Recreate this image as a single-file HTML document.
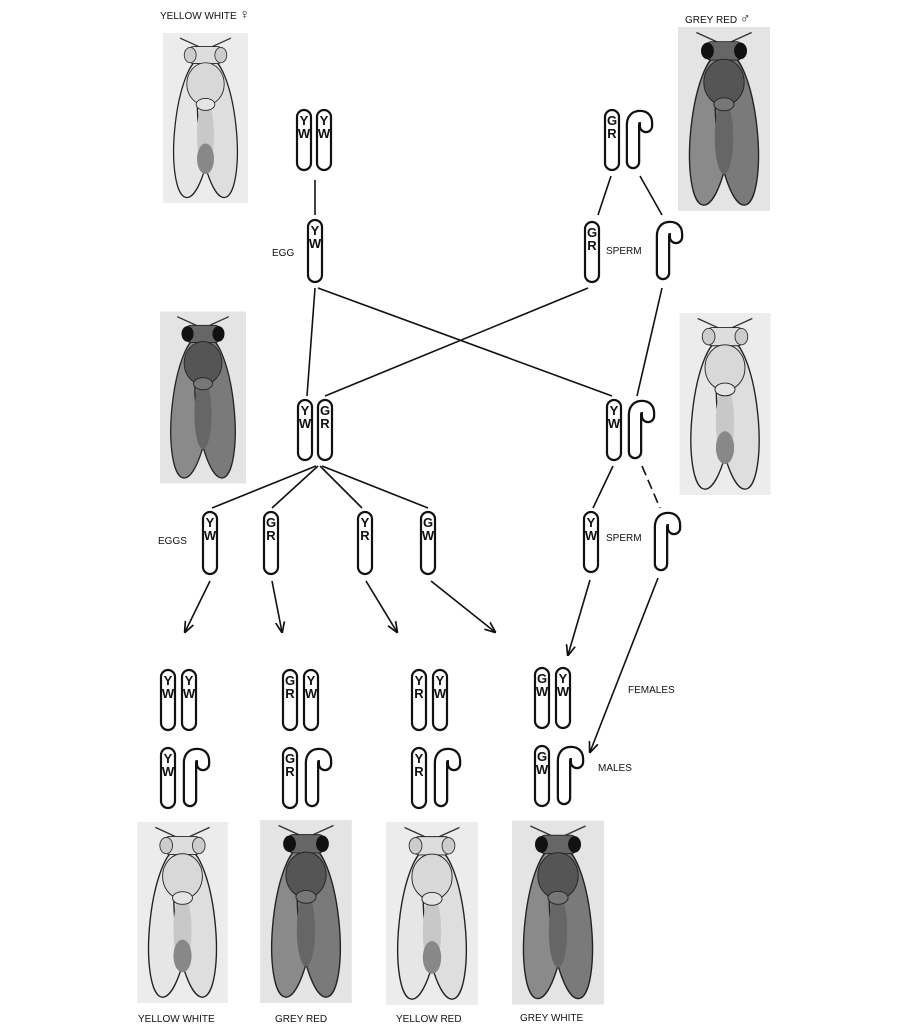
<!DOCTYPE html>
<html><head><meta charset="utf-8"><style>
html,body{margin:0;padding:0;background:#fff;}
svg{display:block}
text{font-family:"Liberation Sans",sans-serif;fill:#111}
.l{font-size:10px}
.c{fill:#fff;stroke:#111;stroke-width:2.2}
.g{font-size:13px;font-weight:bold;text-anchor:middle}
</style></head><body>
<svg width="900" height="1030" viewBox="0 0 900 1030" xmlns="http://www.w3.org/2000/svg">
<defs>
<symbol id="flyD" viewBox="0 0 100 200">
<rect x="0" y="0" width="100" height="200" fill="#e4e4e4"/>
<line x1="20" y1="6" x2="42" y2="16" stroke="#333" stroke-width="1.5"/>
<line x1="80" y1="6" x2="58" y2="16" stroke="#333" stroke-width="1.5"/>
<ellipse cx="36" cy="112" rx="22" ry="82" fill="#8a8a8a" stroke="#222" stroke-width="1.5" transform="rotate(6 36 112)"/>
<ellipse cx="64" cy="112" rx="22" ry="82" fill="#7a7a7a" stroke="#222" stroke-width="1.5" transform="rotate(-6 64 112)"/>
<ellipse cx="50" cy="120" rx="10" ry="40" fill="#666"/>
<rect x="30" y="16" width="40" height="20" rx="6" fill="#666" stroke="#222"/>
<ellipse cx="32" cy="26" rx="7" ry="9" fill="#111"/>
<ellipse cx="68" cy="26" rx="7" ry="9" fill="#111"/>
<ellipse cx="50" cy="60" rx="22" ry="25" fill="#555" stroke="#222"/>
<ellipse cx="50" cy="84" rx="11" ry="7" fill="#777" stroke="#222"/>
</symbol>
<symbol id="flyL" viewBox="0 0 100 200">
<rect x="0" y="0" width="100" height="200" fill="#ececec"/>
<line x1="20" y1="6" x2="42" y2="16" stroke="#333" stroke-width="1.5"/>
<line x1="80" y1="6" x2="58" y2="16" stroke="#333" stroke-width="1.5"/>
<ellipse cx="36" cy="112" rx="22" ry="82" fill="#e6e6e6" stroke="#222" stroke-width="1.5" transform="rotate(6 36 112)"/>
<ellipse cx="64" cy="112" rx="22" ry="82" fill="#dedede" stroke="#222" stroke-width="1.5" transform="rotate(-6 64 112)"/>
<ellipse cx="50" cy="120" rx="10" ry="40" fill="#c8c8c8"/>
<ellipse cx="50" cy="148" rx="10" ry="18" fill="#888"/>
<rect x="30" y="16" width="40" height="20" rx="6" fill="#ddd" stroke="#222"/>
<ellipse cx="32" cy="26" rx="7" ry="9" fill="#ccc" stroke="#333"/>
<ellipse cx="68" cy="26" rx="7" ry="9" fill="#ccc" stroke="#333"/>
<ellipse cx="50" cy="60" rx="22" ry="25" fill="#d8d8d8" stroke="#222"/>
<ellipse cx="50" cy="84" rx="11" ry="7" fill="#e4e4e4" stroke="#222"/>
</symbol>
<symbol id="hook" viewBox="0 0 30 62">
<path d="M9 53 L9 16 Q9 8 16 8 Q22 8 22 14 L22 17" fill="none" stroke="#111" stroke-width="14.5" stroke-linecap="round" stroke-linejoin="round"/>
<path d="M9 53 L9 16 Q9 8 16 8 Q22 8 22 14 L22 17" fill="none" stroke="#fff" stroke-width="10" stroke-linecap="round" stroke-linejoin="round"/>
</symbol>
<marker id="ar" viewBox="0 0 10 10" refX="9" refY="5" markerWidth="7" markerHeight="7" orient="auto"><path d="M0 1 L10 5 L0 9" fill="none" stroke="#111" stroke-width="1.5"/></marker>
</defs>

<use href="#flyL" x="163" y="22" width="85" height="192"/>
<use href="#flyD" x="678" y="26" width="92" height="186"/>
<use href="#flyD" x="160" y="305" width="86" height="185"/>
<use href="#flyL" x="678" y="313" width="94" height="182"/>
<use href="#flyL" x="132" y="822" width="101" height="181"/>
<use href="#flyD" x="259" y="820" width="94" height="183"/>
<use href="#flyL" x="383" y="822" width="98" height="183"/>
<use href="#flyD" x="512" y="820" width="92" height="185"/>

<text class="l" x="160" y="19">YELLOW WHITE <tspan font-size="14">♀</tspan></text>
<text class="l" x="685" y="23">GREY  RED <tspan font-size="14">♂</tspan></text>
<text class="l" x="272" y="256" font-size="9">EGG</text>
<text class="l" x="606" y="254">SPERM</text>
<text class="l" x="158" y="544">EGGS</text>
<text class="l" x="606" y="541">SPERM</text>
<text class="l" x="628" y="693">FEMALES</text>
<text class="l" x="598" y="771">MALES</text>
<text class="l" x="138" y="1022">YELLOW WHITE</text>
<text class="l" x="275" y="1022">GREY  RED</text>
<text class="l" x="396" y="1022">YELLOW  RED</text>
<text class="l" x="520" y="1021">GREY WHITE</text>

<g stroke="#111" stroke-width="1.6" fill="none">
<line x1="315" y1="180" x2="315" y2="215"/>
<line x1="611" y1="176" x2="598" y2="215"/>
<line x1="640" y1="176" x2="662" y2="215"/>
<line x1="315" y1="288" x2="307" y2="396"/>
<line x1="318" y1="288" x2="612" y2="396"/>
<line x1="588" y1="288" x2="325" y2="396"/>
<line x1="662" y1="288" x2="637" y2="396"/>
<line x1="316" y1="466" x2="212" y2="508"/>
<line x1="318" y1="466" x2="272" y2="508"/>
<line x1="320" y1="466" x2="362" y2="508"/>
<line x1="322" y1="466" x2="428" y2="508"/>
<line x1="613" y1="466" x2="593" y2="508"/>
<line x1="642" y1="466" x2="660" y2="508" stroke-dasharray="10 5"/>
<line x1="210" y1="581" x2="185" y2="632" marker-end="url(#ar)"/>
<line x1="272" y1="581" x2="282" y2="632" marker-end="url(#ar)"/>
<line x1="366" y1="581" x2="397" y2="632" marker-end="url(#ar)"/>
<line x1="431" y1="581" x2="495" y2="632" marker-end="url(#ar)"/>
<line x1="590" y1="580" x2="568" y2="655" marker-end="url(#ar)"/>
<line x1="658" y1="578" x2="590" y2="752" marker-end="url(#ar)"/>
</g>

<g>
<rect class="c" x="297" y="110" width="14" height="60" rx="7"/><text class="g" x="304" y="125">Y</text><text class="g" x="304" y="138">W</text>
<rect class="c" x="317" y="110" width="14" height="60" rx="7"/><text class="g" x="324" y="125">Y</text><text class="g" x="324" y="138">W</text>
<rect class="c" x="605" y="110" width="14" height="60" rx="7"/><text class="g" x="612" y="125">G</text><text class="g" x="612" y="138">R</text>
<use href="#hook" x="624" y="109" width="30" height="62"/>
<rect class="c" x="308" y="220" width="14" height="62" rx="7"/><text class="g" x="315" y="235">Y</text><text class="g" x="315" y="248">W</text>
<rect class="c" x="585" y="222" width="14" height="60" rx="7"/><text class="g" x="592" y="237">G</text><text class="g" x="592" y="250">R</text>
<use href="#hook" x="654" y="220" width="30" height="62"/>
<rect class="c" x="298" y="400" width="14" height="60" rx="7"/><text class="g" x="305" y="415">Y</text><text class="g" x="305" y="428">W</text>
<rect class="c" x="318" y="400" width="14" height="60" rx="7"/><text class="g" x="325" y="415">G</text><text class="g" x="325" y="428">R</text>
<rect class="c" x="607" y="400" width="14" height="60" rx="7"/><text class="g" x="614" y="415">Y</text><text class="g" x="614" y="428">W</text>
<use href="#hook" x="626" y="399" width="30" height="62"/>
<rect class="c" x="203" y="512" width="14" height="62" rx="7"/><text class="g" x="210" y="527">Y</text><text class="g" x="210" y="540">W</text>
<rect class="c" x="264" y="512" width="14" height="62" rx="7"/><text class="g" x="271" y="527">G</text><text class="g" x="271" y="540">R</text>
<rect class="c" x="358" y="512" width="14" height="62" rx="7"/><text class="g" x="365" y="527">Y</text><text class="g" x="365" y="540">R</text>
<rect class="c" x="421" y="512" width="14" height="62" rx="7"/><text class="g" x="428" y="527">G</text><text class="g" x="428" y="540">W</text>
<rect class="c" x="584" y="512" width="14" height="60" rx="7"/><text class="g" x="591" y="527">Y</text><text class="g" x="591" y="540">W</text>
<use href="#hook" x="652" y="511" width="30" height="62"/>
<rect class="c" x="161" y="670" width="14" height="60" rx="7"/><text class="g" x="168" y="685">Y</text><text class="g" x="168" y="698">W</text>
<rect class="c" x="182" y="670" width="14" height="60" rx="7"/><text class="g" x="189" y="685">Y</text><text class="g" x="189" y="698">W</text>
<rect class="c" x="283" y="670" width="14" height="60" rx="7"/><text class="g" x="290" y="685">G</text><text class="g" x="290" y="698">R</text>
<rect class="c" x="304" y="670" width="14" height="60" rx="7"/><text class="g" x="311" y="685">Y</text><text class="g" x="311" y="698">W</text>
<rect class="c" x="412" y="670" width="14" height="60" rx="7"/><text class="g" x="419" y="685">Y</text><text class="g" x="419" y="698">R</text>
<rect class="c" x="433" y="670" width="14" height="60" rx="7"/><text class="g" x="440" y="685">Y</text><text class="g" x="440" y="698">W</text>
<rect class="c" x="535" y="668" width="14" height="60" rx="7"/><text class="g" x="542" y="683">G</text><text class="g" x="542" y="696">W</text>
<rect class="c" x="556" y="668" width="14" height="60" rx="7"/><text class="g" x="563" y="683">Y</text><text class="g" x="563" y="696">W</text>
<rect class="c" x="161" y="748" width="14" height="60" rx="7"/><text class="g" x="168" y="763">Y</text><text class="g" x="168" y="776">W</text>
<use href="#hook" x="181" y="747" width="30" height="62"/>
<rect class="c" x="283" y="748" width="14" height="60" rx="7"/><text class="g" x="290" y="763">G</text><text class="g" x="290" y="776">R</text>
<use href="#hook" x="303" y="747" width="30" height="62"/>
<rect class="c" x="412" y="748" width="14" height="60" rx="7"/><text class="g" x="419" y="763">Y</text><text class="g" x="419" y="776">R</text>
<use href="#hook" x="432" y="747" width="30" height="62"/>
<rect class="c" x="535" y="746" width="14" height="60" rx="7"/><text class="g" x="542" y="761">G</text><text class="g" x="542" y="774">W</text>
<use href="#hook" x="555" y="745" width="30" height="62"/>
</g>
</svg>
</body></html>
